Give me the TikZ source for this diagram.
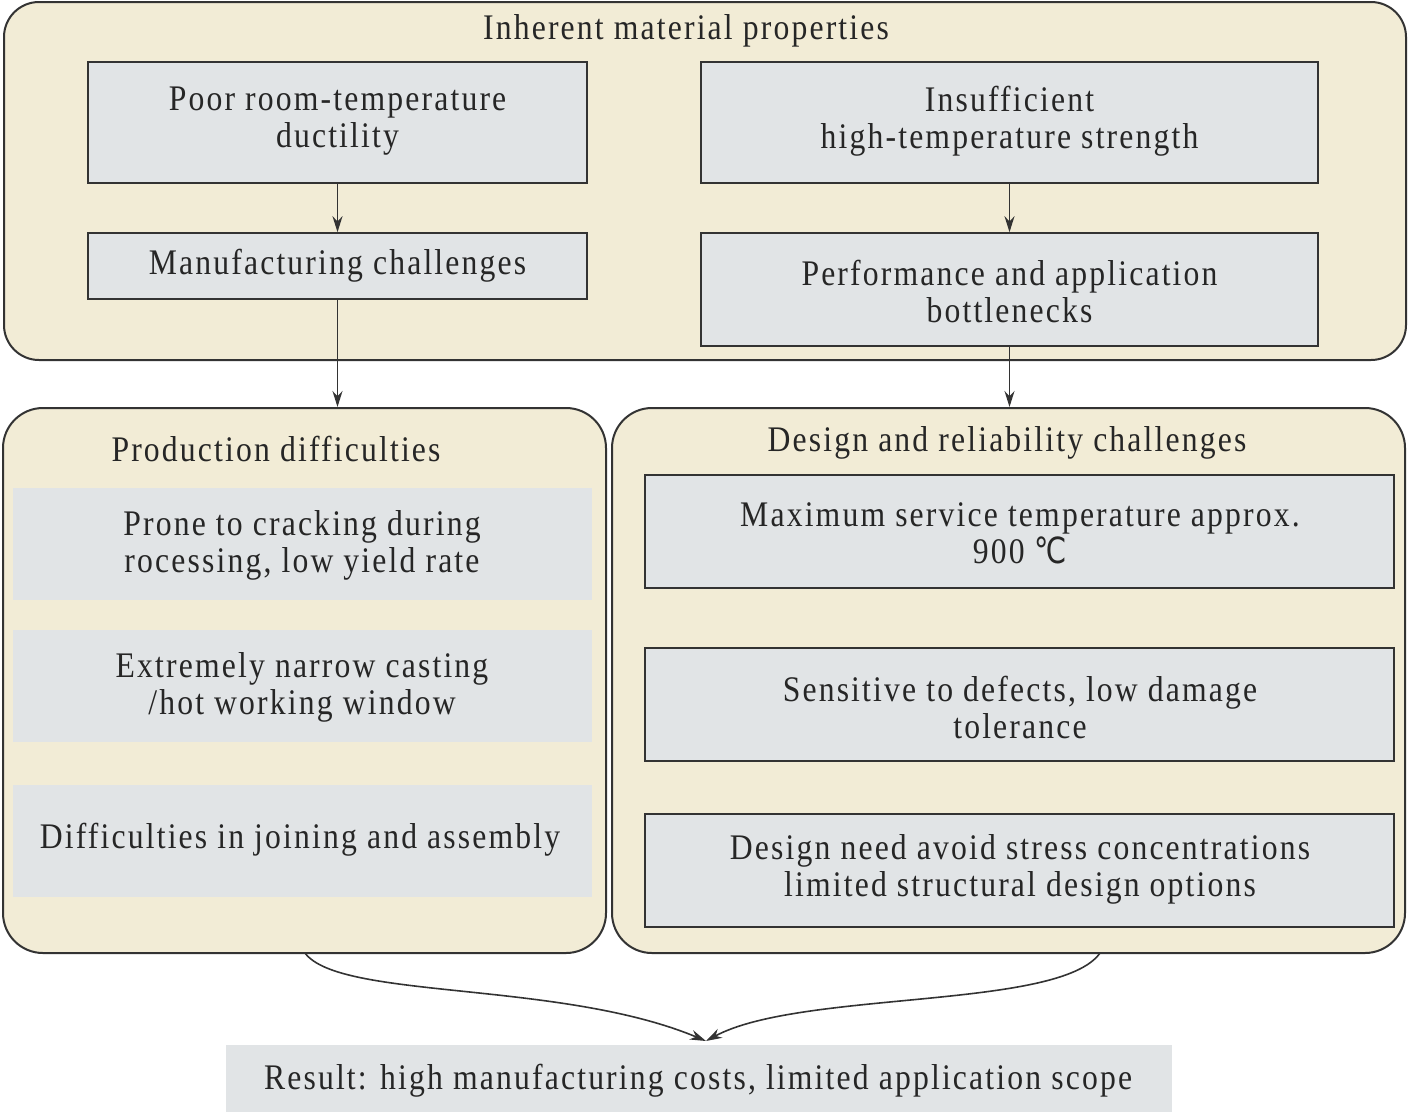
\documentclass[tikz,border=0pt]{standalone}
\usepackage{fontspec}
\setmainfont{Liberation Serif}[FakeStretch=0.88,LetterSpace=6]
\newfontfamily\symfont{DejaVu Sans}[FakeStretch=0.8]
\usetikzlibrary{arrows.meta,positioning}
\definecolor{cream}{HTML}{F2ECD6}
\definecolor{panelgray}{HTML}{E1E4E6}
\definecolor{edge}{HTML}{333333}
\tikzset{
  every node/.style={font=\fontsize{36}{37}\selectfont, text=black!85, align=center, inner sep=0pt},
  container/.style={draw=edge, line width=2pt, fill=cream, rounded corners=40pt},
  boxed/.style={draw=edge, line width=1.6pt, fill=panelgray},
  plain/.style={fill=panelgray},
  title/.style={},
  conn/.style={draw=edge, line width=1.6pt, -{Stealth[length=16pt,width=10pt]}},
}
\begin{document}
\begin{tikzpicture}[x=1pt,y=-1pt]
\useasboundingbox (0,0) rectangle (1408,1112);
% containers
\node[container, minimum width=1402pt, minimum height=358pt, rounded corners=35pt] (top) at (705,181) {};
\node[container, minimum width=603pt, minimum height=545pt] (left) at (304.5,680.5) {};
\node[container, minimum width=793pt, minimum height=545pt] (right) at (1008.5,680.5) {};
% titles
\node[title] (t1) at (686,31) {Inherent material properties};
\node[title] (t2) at (276,449) {Production difficulties};
\node[title] (t3) at (1007,443) {Design and reliability challenges};
% top boxes
\node[boxed, minimum width=499pt, minimum height=121pt] (A) at (337.5,122.5) {};
\node (Atxt) at (337.5,121) {Poor room-temperature\\ductility};
\node[boxed, minimum width=499pt, minimum height=66pt] (B) at (337.5,266) {};
\node (Btxt) at (337.5,266) {Manufacturing challenges};
\node[boxed, minimum width=617pt, minimum height=121pt] (C) at (1009.5,122.5) {};
\node (Ctxt) at (1009.5,121) {Insufficient\\high-temperature strength};
\node[boxed, minimum width=617pt, minimum height=113pt] (D) at (1009.5,289.5) {};
\node (Dtxt) at (1009.5,291) {Performance and application\\bottlenecks};
% left items
\node[plain, minimum width=579pt, minimum height=112pt] (L1) at (302.5,544) {};
\node (L1txt) at (302,545) {Prone to cracking during\\rocessing, low yield rate};
\node[plain, minimum width=579pt, minimum height=112pt] (L2) at (302.5,686) {};
\node (L2txt) at (302,687) {Extremely narrow casting\\/hot working window};
\node[plain, minimum width=579pt, minimum height=112pt] (L3) at (302.5,841) {};
\node (L3txt) at (300,840) {Difficulties in joining and assembly};
% right items
\node[boxed, minimum width=749pt, minimum height=113pt] (R1) at (1019.5,531.5) {};
\node (R1txt) at (1020,533) {Maximum service temperature approx.\\900 {\symfont ℃}};
\node[boxed, minimum width=749pt, minimum height=113pt] (R2) at (1019.5,704.5) {};
\node (R2txt) at (1020,707) {Sensitive to defects, low damage\\tolerance};
\node[boxed, minimum width=749pt, minimum height=113pt] (R3) at (1019.5,870.5) {};
\node (R3txt) at (1020,869) {Design need avoid stress concentrations\\limited structural design options};
% result
\node[plain, minimum width=946pt, minimum height=67pt] (res) at (699,1078.5) {};
\node (restxt) at (698,1081) {Result: high manufacturing costs, limited application scope};
% connectors
\draw[conn] (A.south) -- (B.north);
\draw[conn] (C.south) -- (D.north);
\draw[conn] (B.south) -- (B.south |- left.north);
\draw[conn] (D.south) -- (D.south |- right.north);
\coordinate (lstart) at (305,953);
\coordinate (rstart) at (1100,953);
\coordinate (tip) at (706,1041);
\draw[conn] (lstart) .. controls (340,1000) and (560,980) .. (tip);
\draw[conn] (rstart) .. controls (1060,1010) and (800,990) .. (tip);
\end{tikzpicture}
\end{document}
